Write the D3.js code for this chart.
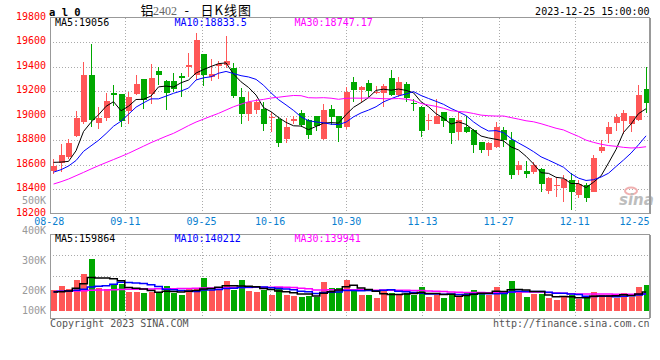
<!DOCTYPE html>
<html><head><meta charset="utf-8">
<script src="https://cdn.jsdelivr.net/npm/d3@7/dist/d3.min.js"></script>
<style>body{margin:0;background:#fff}svg{display:block}</style>
</head><body>
<svg id="c" width="660" height="360"></svg>
<script>
const dates = ["08-28","08-29","08-30","08-31","09-01","09-04","09-05","09-06","09-07","09-08",
"09-11","09-12","09-13","09-14","09-15","09-18","09-19","09-20","09-21","09-22",
"09-25","09-26","09-27","09-28","10-09","10-10","10-11","10-12","10-13","10-16",
"10-17","10-18","10-19","10-20","10-23","10-24","10-25","10-26","10-27","10-30",
"10-31","11-01","11-02","11-03","11-06","11-07","11-08","11-09","11-10","11-13",
"11-14","11-15","11-16","11-17","11-20","11-21","11-22","11-23","11-24","11-27",
"11-28","11-29","11-30","12-01","12-04","12-05","12-06","12-07","12-08","12-11",
"12-12","12-13","12-14","12-15","12-18","12-19","12-20","12-21","12-22","12-25"];
const axisDates = ["08-28","09-11","09-25","10-16","10-30","11-13","11-27","12-11","12-25"];
const open = [18550,18612,18660,18837,18950,19333,18945,18980,19185,19176,
19040,19178,19298,19176,19366,19284,19285,19325,19401,19333,
19505,19319,19409,19415,19390,19154,19017,19050,19056,18985,
18974,18813,18960,19020,18962,18998,18811,19053,18998,18911,
19276,19211,19265,19183,19189,19311,19170,19257,19107,19075,
18960,18933,19028,18979,18868,18908,18884,18786,18721,18745,
18884,18800,18558,18549,18538,18566,18389,18427,18408,18476,
18354,18435,18381,18716,18851,18944,18960,18936,18966,19219];
const high = [18645,18770,18810,19040,19440,19585,19075,19190,19250,19180,
19197,19333,19300,19420,19395,19295,19350,19347,19510,19679,
19505,19464,19450,19651,19430,19224,19192,19137,19115,19034,
18988,18979,19000,19050,18975,18998,19100,19090,19000,19238,
19314,19240,19290,19245,19260,19374,19319,19280,19140,19080,
19015,19134,19030,18985,19034,19000,18890,18790,18790,18952,
18905,18870,18634,18634,18626,18570,18498,18498,18520,18530,
18476,18449,18680,18800,18952,19018,19050,19000,19251,19398];
const low = [18525,18545,18650,18830,18930,18905,18890,18960,19080,18905,
18937,19170,19053,19100,19250,19050,19195,19151,19319,19292,
19246,19287,19300,19387,19145,18936,18960,19017,18879,18865,
18748,18781,18930,18905,18811,18880,18805,18925,18789,18890,
19110,19110,19150,19180,19074,19160,19150,19110,19040,18824,
18884,18930,18911,18770,18802,18860,18699,18694,18675,18740,
18748,18484,18517,18490,18522,18381,18362,18340,18296,18231,
18329,18299,18381,18699,18775,18879,18854,18870,18958,19026];
const close = [18590,18680,18775,18983,19333,18966,18985,19120,19172,18960,
19156,19257,19129,19305,19333,19190,19215,19306,19415,19619,
19333,19341,19420,19447,19162,19017,19110,19110,18936,18993,
18781,18911,18971,18925,18845,18915,19045,18993,18903,19195,
19211,19232,19203,19197,19243,19170,19279,19148,19096,18879,
18966,18998,18960,18860,18966,18865,18762,18721,18781,18911,
18800,18517,18596,18525,18596,18443,18490,18435,18487,18381,
18441,18326,18656,18745,18909,18990,19023,18998,19170,19107];
const volume = [173900,207700,182100,258000,309300,433700,193100,181200,223300,222500,
159200,160100,149100,157400,146400,207700,147300,131800,179300,180200,
271800,173900,176600,248900,177400,258000,166500,159200,170200,131800,
198600,132500,126300,117100,125800,116600,243400,193100,192400,258000,
182100,131800,131200,108900,162000,150100,131800,148200,128100,201300,
116200,128100,108900,139100,119000,146400,173900,159200,131800,201300,
137300,251600,165600,117100,137300,136800,104300,89700,123500,131800,
97900,104300,154600,131800,132200,108900,146400,117100,196700,215900];
// moving-average values for days before a full window exists
const ma5Head = [18620,18622,18628,18715];
const ma10Head = [18540,18560,18590,18635,18710,18755,18800,18855,18915];
const ma30Head = [18443,18462,18484,18511,18538,18566,18593,18618,18643,18668,
18694,18723,18752,18781,18807,18833,18857,18888,18920,18949,
18973,18997,19020,19047,19074,19095,19115,19125,19134];
const vma5Head = [158000,160000,165000,188000];
const vma10Head = [160000,163000,166000,172000,180000,200000,206000,210000,222000];
const vma30Head = [162000,163000,164000,166000,168000,172000,174000,175000,177000,179000,
180000,181000,182000,183000,183500,185000,185500,186000,187000,188000,
190000,191000,192000,193000,194000,195000,196000,196500,197000];
const priceTicks = [19800,19600,19400,19200,19000,18800,18600,18400,18200];
const volTicks = [500000,400000,300000,200000,100000];
const priceMaLabels = ["MA5:19056","MA10:18833.5","MA30:18747.17"];
const volMaLabels = ["MA5:159864","MA10:140212","MA30:139941"];
const titleParts = ["铝","2402","-","日K线图"];

const UP = "#ff5757", DOWN = "#00a800";
const maColors = ["#000000","#0000ff","#ff00ff"];
const MONO = "'DejaVu Sans Mono', monospace";
const svg = d3.select("#c");

const L = 50, R = 649;
const pTop = 17.8, pBot = 213.8, vTop = 234.3, vBot = 318.2, vBase = 310.7;

const xb = d3.scaleBand().domain(dates).range([49.3, 649.3]);
const cx = d => xb(d) + xb.bandwidth() / 2;
const xg = d3.scalePoint().domain(dates).range([49.2, 651]);
const y = d3.scaleLinear().domain([18200, 19800]).range([pBot, pTop]);
const yv = d3.scaleLinear().domain([0, 600000]).range([vBase, vBase - 71.4]);
const yvLabel = d3.scaleLinear().domain([100000, 200000, 500000]).range([310.5, 290.5, 200]);

function ma(arr, n, head) {
  return arr.map((_, i) => i < n - 1 ? head[i] : d3.mean(arr.slice(i - n + 1, i + 1)));
}

// grids
const grid = svg.append("g").attr("stroke", "#aaa").attr("stroke-dasharray", "1,2").attr("shape-rendering", "crispEdges");
priceTicks.slice(1, -1).forEach(p => grid.append("line").attr("x1", L).attr("x2", R).attr("y1", Math.round(y(p)) + 0.5).attr("y2", Math.round(y(p)) + 0.5));
[0.25, 0.5].forEach(f => { const yy = Math.round(vTop + (vBot - vTop) * f) + 0.5; grid.append("line").attr("x1", L).attr("x2", R).attr("y1", yy).attr("y2", yy); });
axisDates.slice(1, -1).forEach(d => {
  const xx = Math.round(xg(d)) + 0.5;
  grid.append("line").attr("x1", xx).attr("x2", xx).attr("y1", pTop).attr("y2", pBot);
  grid.append("line").attr("x1", xx).attr("x2", xx).attr("y1", vTop).attr("y2", vBot);
});

// watermark
const wm = svg.append("g");
wm.append("ellipse").attr("cx", 631).attr("cy", 191).attr("rx", 6).attr("ry", 3.5).attr("fill", "none").attr("stroke", "#f0b0b0").attr("stroke-width", 2);
wm.append("text").attr("x", 619).attr("y", 204.5).attr("font-family", "'DejaVu Sans', sans-serif").attr("font-style", "italic").attr("font-weight", "bold").attr("font-size", 15).attr("fill", "#bdbdbd").text("sina");

// candles
const cg = svg.append("g").attr("shape-rendering", "crispEdges");
dates.forEach((d, i) => {
  const up = close[i] >= open[i];
  const col = up ? UP : DOWN;
  const xc = Math.round(cx(d));
  cg.append("line").attr("x1", xc + 0.5).attr("x2", xc + 0.5).attr("y1", y(high[i])).attr("y2", y(low[i])).attr("stroke", col);
  const top = y(Math.max(open[i], close[i])), bot = y(Math.min(open[i], close[i]));
  cg.append("rect").attr("x", xc - 2.5).attr("width", 6).attr("y", top).attr("height", Math.max(1, bot - top)).attr("fill", col);
});

// price MA lines
const closeMA = [ma(close, 5, ma5Head), ma(close, 10, ma10Head), ma(close, 30, ma30Head)];
const pline = d3.line().x((v, i) => cx(dates[i]) + 0.5).y(v => y(v));
closeMA.forEach((s, k) => svg.append("path").attr("d", pline(s)).attr("fill", "none").attr("stroke", maColors[k]).attr("stroke-width", 1));

// volume bars
const vg = svg.append("g").attr("shape-rendering", "crispEdges");
dates.forEach((d, i) => {
  const col = close[i] >= open[i] ? UP : DOWN;
  const xc = Math.round(cx(d));
  vg.append("rect").attr("x", xc - 2.5).attr("width", 6).attr("y", yv(volume[i])).attr("height", vBase - yv(volume[i])).attr("fill", col);
});
const volMA = [ma(volume, 5, vma5Head), ma(volume, 10, vma10Head), ma(volume, 30, vma30Head)];
const vline = d3.line().curve(d3.curveStep).x((v, i) => cx(dates[i]) + 0.5).y(v => yv(v));
[2, 1, 0].forEach(k => svg.append("path").attr("d", vline(volMA[k])).attr("fill", "none").attr("stroke", maColors[k]).attr("stroke-width", 1.5));

// borders
const bd = svg.append("g").attr("fill", "none").attr("stroke", "#999").attr("shape-rendering", "crispEdges");
bd.append("rect").attr("x", L + 0.5).attr("y", 17.5).attr("width", R - L).attr("height", pBot - 17.5);
bd.append("rect").attr("x", L + 0.5).attr("y", 234.5).attr("width", R - L).attr("height", vBot - 234.5);
bd.append("line").attr("x1", R + 1.5).attr("x2", R + 1.5).attr("y1", 17.5).attr("y2", pBot);
bd.append("line").attr("x1", R + 1.5).attr("x2", R + 1.5).attr("y1", 234.5).attr("y2", vBot);

// texts
const txt = (x, yy, s, fill, anchor, size) => svg.append("text").attr("x", x).attr("y", yy).attr("font-family", MONO).attr("font-size", size || 10).attr("fill", fill).attr("text-anchor", anchor || "start").text(s);

priceTicks.forEach(p => txt(46, y(p) + 2, p, "#ff0000", "end"));
volTicks.forEach(v => txt(46, yvLabel(v) + 3.5, (v / 1000) + "K", "#999999", "end"));
axisDates.forEach((d, i) => {
  const last = i === axisDates.length - 1;
  txt(last ? 649.5 : xg(d), 224.5, d, "#0a7fd0", last ? "end" : "middle");
});
const maX = [55, 174.5, 294.5];
priceMaLabels.forEach((s, k) => txt(maX[k], 26.3, s, maColors[k]));
volMaLabels.forEach((s, k) => txt(maX[k], 241.6, s, maColors[k]));

txt(49, 15.5, "a l 0", "#000", "start", 10.5).attr("font-weight", "bold");
txt(649.5, 15.3, "2023-12-25 15:00:00", "#000", "end");
txt(50, 327, "Copyright 2023 SINA.COM", "#555", "start");
txt(649.5, 327, "http://finance.sina.com.cn", "#555", "end");

const title = svg.append("text").attr("y", 15).attr("font-size", 13).attr("font-family", "'Noto Sans CJK SC', sans-serif").attr("fill", "#000");
title.append("tspan").attr("x", 140.5).text(titleParts[0]);
title.append("tspan").attr("x", 153).attr("font-family", "'Liberation Serif', serif").attr("font-size", 12).attr("fill", "#666").text(titleParts[1]);
title.append("tspan").attr("x", 184.5).text(titleParts[2]);
title.append("tspan").attr("x", 200.5).attr("letter-spacing", 1).text(titleParts[3]);
</script>
</body></html>
